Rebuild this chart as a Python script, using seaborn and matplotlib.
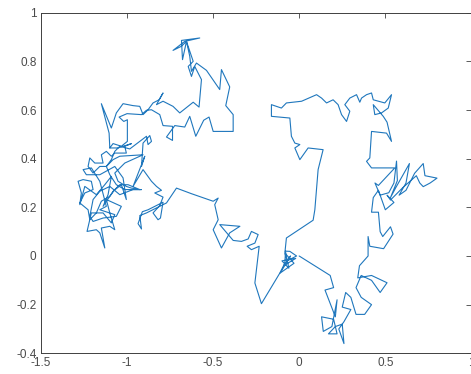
import matplotlib
matplotlib.use("Agg")
import matplotlib.pyplot as plt
import pandas as pd
import seaborn as sns

# ---- random-walk path, in drawing order (x, y) ----
upper_band = [(-1.099, 0.444), (-1.103, 0.505), (-1.148, 0.626), (-1.090, 0.526), (-1.061, 0.588),
              (-1.022, 0.626), (-0.964, 0.618), (-0.925, 0.615), (-0.906, 0.581), (-0.877, 0.601),
              (-0.848, 0.629), (-0.813, 0.642), (-0.790, 0.670), (-0.828, 0.622), (-0.790, 0.636),
              (-0.732, 0.615), (-0.693, 0.588), (-0.615, 0.632), (-0.581, 0.612), (-0.567, 0.725),
              (-0.606, 0.779), (-0.625, 0.738), (-0.644, 0.779), (-0.615, 0.800), (-0.654, 0.882),
              (-0.677, 0.807), (-0.683, 0.886), (-0.577, 0.896), (-0.664, 0.882), (-0.732, 0.845),
              (-0.683, 0.862), (-0.654, 0.882), (-0.635, 0.821), (-0.625, 0.759), (-0.596, 0.793),
              (-0.538, 0.763), (-0.461, 0.684), (-0.451, 0.766), (-0.403, 0.695), (-0.426, 0.618),
              (-0.383, 0.581), (-0.383, 0.512), (-0.499, 0.512), (-0.523, 0.571), (-0.554, 0.558),
              (-0.600, 0.492), (-0.635, 0.574), (-0.664, 0.530), (-0.722, 0.536), (-0.770, 0.489),
              (-0.735, 0.475), (-0.735, 0.533), (-0.790, 0.536), (-0.809, 0.581), (-0.857, 0.601),
              (-0.886, 0.599), (-0.915, 0.581)]

left_cluster = [(-0.999, 0.585), (-1.045, 0.571), (-1.018, 0.553), (-0.997, 0.560), (-0.997, 0.471),
                (-1.032, 0.451), (-1.080, 0.462), (-1.099, 0.444), (-1.051, 0.444), (-0.973, 0.462),
                (-1.012, 0.451), (-1.003, 0.423), (-1.070, 0.423), (-1.090, 0.410), (-1.119, 0.430),
                (-1.148, 0.416), (-1.138, 0.382), (-1.186, 0.382), (-1.215, 0.403), (-1.225, 0.368),
                (-1.196, 0.341), (-1.157, 0.368), (-1.119, 0.368), (-1.080, 0.396), (-1.041, 0.410),
                (-0.906, 0.416), (-1.012, 0.382), (-1.070, 0.341), (-1.051, 0.307), (-1.003, 0.286),
                (-0.973, 0.279), (-0.925, 0.273), (-0.993, 0.293), (-1.041, 0.293), (-1.070, 0.273),
                (-1.099, 0.245), (-1.148, 0.225), (-1.177, 0.177), (-1.215, 0.149), (-1.225, 0.190),
                (-1.273, 0.218), (-1.244, 0.259), (-1.196, 0.273), (-1.206, 0.307), (-1.254, 0.314),
                (-1.283, 0.307), (-1.264, 0.259), (-1.273, 0.211), (-1.244, 0.286), (-1.177, 0.252),
                (-1.128, 0.293), (-1.090, 0.327), (-1.109, 0.252), (-1.138, 0.204), (-1.080, 0.266),
                (-1.032, 0.293), (-1.003, 0.232), (-1.022, 0.321), (-1.070, 0.368), (-1.157, 0.334),
                (-1.235, 0.334), (-1.254, 0.355), (-1.206, 0.362), (-1.157, 0.307), (-1.119, 0.204),
                (-1.157, 0.190), (-1.070, 0.170), (-1.090, 0.136), (-1.138, 0.177), (-1.206, 0.177),
                (-1.231, 0.101), (-1.177, 0.108), (-1.157, 0.095), (-1.128, 0.033), (-1.148, 0.115),
                (-1.099, 0.122), (-1.070, 0.108), (-1.099, 0.177), (-1.119, 0.232), (-1.032, 0.204),
                (-1.061, 0.163), (-1.138, 0.156), (-1.196, 0.142), (-1.215, 0.163), (-1.196, 0.232),
                (-1.157, 0.266), (-1.099, 0.286), (-1.041, 0.252), (-0.964, 0.273), (-0.915, 0.273),
                (-1.012, 0.273), (-1.061, 0.293), (-1.099, 0.334), (-1.119, 0.368), (-1.090, 0.396),
                (-1.070, 0.430), (-1.041, 0.451), (-0.983, 0.440), (-0.886, 0.492), (-0.877, 0.458),
                (-0.857, 0.471), (-0.867, 0.495), (-0.906, 0.464), (-0.915, 0.368), (-0.896, 0.410)]

mid_left = [(-0.964, 0.286), (-0.906, 0.355), (-0.857, 0.307), (-0.828, 0.286), (-0.799, 0.270),
            (-0.838, 0.259), (-0.790, 0.242), (-0.809, 0.207), (-0.848, 0.177), (-0.819, 0.149),
            (-0.805, 0.156), (-0.790, 0.221), (-0.877, 0.190), (-0.910, 0.182), (-0.935, 0.133),
            (-0.915, 0.111), (-0.925, 0.166), (-0.886, 0.177), (-0.770, 0.218), (-0.712, 0.279),
            (-0.625, 0.256), (-0.528, 0.232), (-0.499, 0.225), (-0.470, 0.238), (-0.490, 0.211),
            (-0.470, 0.149), (-0.499, 0.108), (-0.451, 0.033), (-0.403, 0.095), (-0.344, 0.122),
            (-0.461, 0.129), (-0.383, 0.064), (-0.335, 0.060), (-0.296, 0.070), (-0.277, 0.101),
            (-0.238, 0.088), (-0.257, 0.053), (-0.302, 0.040), (-0.277, 0.026), (-0.232, 0.040),
            (-0.257, -0.111), (-0.219, -0.196), (-0.112, -0.070), (-0.083, -0.029)]

origin_knot = [(-0.08, 0.01), (-0.03, -0.03), (-0.11, -0.07), (-0.05, 0.00), (-0.09, -0.04),
               (-0.02, -0.01), (-0.10, -0.02), (-0.06, -0.05), (-0.08, 0.02), (-0.054, 0.019),
               (-0.015, 0.00), (-0.07, -0.02), (-0.083, 0.012)]

right_loop = [(-0.074, 0.074), (0.081, 0.147), (0.091, 0.190), (0.110, 0.355), (0.139, 0.437),
              (0.052, 0.444), (0.004, 0.396), (-0.025, 0.444), (0.004, 0.458), (-0.025, 0.464),
              (-0.045, 0.492), (-0.054, 0.567), (-0.161, 0.574), (-0.161, 0.622), (-0.103, 0.608),
              (-0.074, 0.629), (0.014, 0.636), (0.101, 0.663), (0.130, 0.649), (0.159, 0.629),
              (0.197, 0.642), (0.226, 0.622), (0.246, 0.581), (0.275, 0.553), (0.294, 0.595),
              (0.265, 0.622), (0.294, 0.649), (0.333, 0.663), (0.352, 0.632), (0.362, 0.649),
              (0.391, 0.663), (0.420, 0.670), (0.430, 0.642), (0.497, 0.629), (0.536, 0.663),
              (0.517, 0.608), (0.478, 0.588), (0.439, 0.581), (0.430, 0.622), (0.488, 0.574),
              (0.510, 0.550), (0.536, 0.471), (0.507, 0.505), (0.420, 0.512), (0.410, 0.403),
              (0.391, 0.389), (0.420, 0.362), (0.555, 0.362)]

right_cluster = [(0.50, 0.32), (0.46, 0.29), (0.44, 0.30), (0.47, 0.25), (0.52, 0.26), (0.55, 0.30),
                 (0.565, 0.39), (0.57, 0.31), (0.53, 0.24), (0.56, 0.28), (0.64, 0.38), (0.62, 0.30),
                 (0.58, 0.25), (0.62, 0.27), (0.67, 0.34), (0.72, 0.38), (0.73, 0.33), (0.80, 0.32),
                 (0.76, 0.30), (0.72, 0.285), (0.70, 0.30), (0.68, 0.33), (0.60, 0.28), (0.53, 0.23),
                 (0.51, 0.25), (0.55, 0.22), (0.50, 0.19), (0.46, 0.27), (0.43, 0.24), (0.42, 0.18),
                 (0.46, 0.18), (0.47, 0.10), (0.485, 0.08), (0.53, 0.12), (0.545, 0.09), (0.49, 0.03),
                 (0.41, 0.04), (0.40, 0.08), (0.40, 0.00), (0.35, -0.04)]

lower_right = [(0.34, -0.09), (0.42, -0.08), (0.48, -0.10), (0.51, -0.11), (0.47, -0.15), (0.42, -0.10),
               (0.36, -0.08), (0.33, -0.13), (0.36, -0.17), (0.42, -0.20), (0.38, -0.24), (0.33, -0.24),
               (0.30, -0.17), (0.27, -0.15), (0.25, -0.21), (0.30, -0.22), (0.26, -0.27), (0.23, -0.30),
               (0.26, -0.36), (0.25, -0.28), (0.21, -0.29), (0.17, -0.32), (0.22, -0.32), (0.20, -0.26),
               (0.13, -0.25), (0.14, -0.31), (0.19, -0.29), (0.22, -0.18), (0.21, -0.25), (0.15, -0.14),
               (0.20, -0.13), (0.18, -0.08), (0.00, 0.00)]

x_ticks = [-1.5, -1, -0.5, 0, 0.5, 1]
x_tick_labels = ["-1.5", "-1", "-0.5", "0", "0.5", "1"]
y_ticks = [-0.4, -0.2, 0, 0.2, 0.4, 0.6, 0.8, 1]
y_tick_labels = ["-0.4", "-0.2", "0", "0.2", "0.4", "0.6", "0.8", "1"]

segments = [upper_band, left_cluster, mid_left, origin_knot, right_loop, right_cluster, lower_right]
path = [p for seg in segments for p in seg]
df = pd.DataFrame({"step": range(len(path)),
                   "x": [p[0] for p in path],
                   "y": [p[1] for p in path]})

sns.set_style("white")
plt.rcParams["font.family"] = ["Liberation Sans", "DejaVu Sans"]

fig = plt.figure(figsize=(4.71, 3.74), dpi=100)
ax = fig.add_axes([0.0864, 0.0553, 0.9146, 0.9108])
sns.lineplot(data=df, x="x", y="y", sort=False, estimator=None, color="#1f77bd",
             linewidth=0.8, ax=ax)

ax.set_xlim(-1.5, 1)
ax.set_ylim(-0.4, 1)
ax.set_xticks(x_ticks)
ax.set_xticklabels(x_tick_labels)
ax.set_yticks(y_ticks)
ax.set_yticklabels(y_tick_labels)
ax.set_xlabel("")
ax.set_ylabel("")
ax.tick_params(direction="in", top=True, right=True, length=3.5, width=0.6,
               colors="#404040", labelcolor="#4a4a4a", labelsize=8.5, pad=3)
for s in ax.spines.values():
    s.set_color("#404040")
    s.set_linewidth(0.7)

fig.savefig("out.png", dpi=100)
